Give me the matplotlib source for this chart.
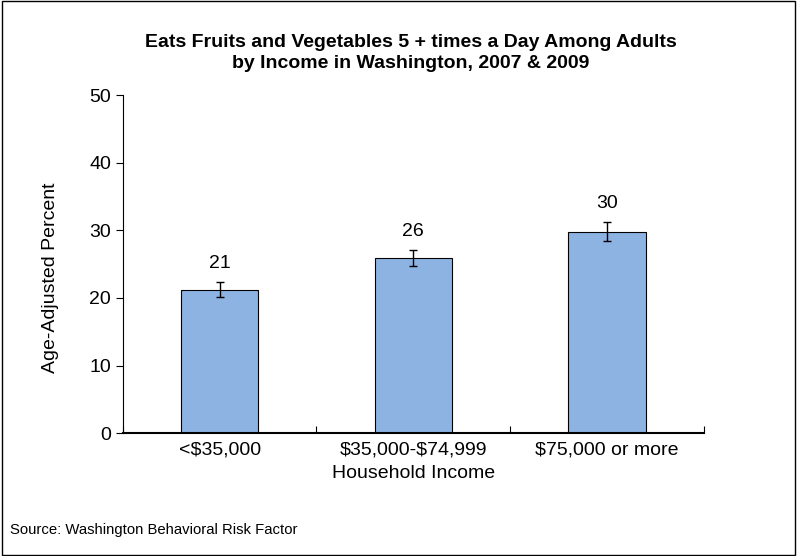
import matplotlib
matplotlib.use('Agg')
import matplotlib.pyplot as plt
import numpy as np

# Данные
categories = ['<$35,000', '$35,000-$74,999', '$75,000 or more']
values = [21.2, 25.9, 29.8]
ci_low = [20.1, 24.7, 28.4]
ci_high = [22.3, 27.1, 31.2]
labels = ['21', '26', '30']

plt.rcParams['font.family'] = ['Liberation Sans', 'DejaVu Sans']
plt.rcParams['text.parse_math'] = False

fig = plt.figure(figsize=(7.97, 5.56), dpi=100)
ax = fig.add_axes([0.154, 0.221, 0.729, 0.608])

x = np.arange(len(categories))
err = [np.array(values) - np.array(ci_low), np.array(ci_high) - np.array(values)]
ax.bar(x, values, width=0.4, color='#8DB3E2', edgecolor='black', linewidth=0.8)
ax.errorbar(x, values, yerr=err, fmt='none', ecolor='black', elinewidth=1, capsize=3, capthick=1)

for xi, hi, lab in zip(x, ci_high, labels):
    ax.text(xi, hi + 1.5, lab, ha='center', va='bottom', fontsize=14)

ax.set_xlim(-0.5, 2.5)
ax.set_ylim(0, 50)
ax.set_yticks(range(0, 51, 10))
ax.set_xticks([-0.5, 0.5, 1.5, 2.5])
ax.set_xticklabels([])
ax.set_xticks(x, minor=True)
ax.set_xticklabels(categories, minor=True, fontsize=14)
ax.tick_params(axis='x', which='minor', length=0, pad=6)
ax.tick_params(axis='x', which='major', length=5, direction='in')
ax.tick_params(axis='y', length=5, direction='out', labelsize=14)

for s in ['top', 'right']:
    ax.spines[s].set_visible(False)
ax.spines['bottom'].set_linewidth(1.5)
ax.spines['left'].set_linewidth(0.8)

ax.set_ylabel('Age-Adjusted Percent', fontsize=14)
ax.yaxis.set_label_coords(-0.11, 0.46)
ax.set_xlabel('Household Income', fontsize=14, labelpad=5)

fig.text(0.515, 0.905, 'Eats Fruits and Vegetables 5 + times a Day Among Adults\nby Income in Washington, 2007 & 2009',
         ha='center', va='center', fontsize=14, fontweight='bold', linespacing=1.3)
fig.text(0.013, 0.047, 'Source: Washington Behavioral Risk Factor', fontsize=10.7, va='center')

# рамка вокруг всей картинки
fig.patches.append(plt.Rectangle((0.002, 0.002), 0.996, 0.996, transform=fig.transFigure,
                                 fill=False, edgecolor='black', linewidth=1))

fig.savefig('out.png', dpi=100)
